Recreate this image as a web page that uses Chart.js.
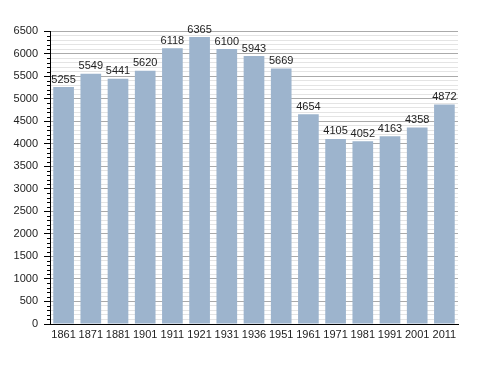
<!DOCTYPE html>
<html>
<head>
<meta charset="utf-8">
<script src="https://cdn.jsdelivr.net/npm/chart.js@4/dist/chart.umd.min.js"></script>
<style>
  html, body { margin: 0; padding: 0; background: #fff; }
  #wrap { width: 488px; height: 373px; }
</style>
</head>
<body>
<div id="wrap"><canvas id="popChart" width="488" height="373"></canvas></div>
<script>
const YEARS = ["1861", "1871", "1881", "1901", "1911", "1921", "1931", "1936", "1951", "1961", "1971", "1981", "1991", "2001", "2011"];
const POPULATION = [5255, 5549, 5441, 5620, 6118, 6365, 6100, 5943, 5669, 4654, 4105, 4052, 4163, 4358, 4872];
const Y_MAX = 6500;
const BAR_COLOR = "#9db4cd";
const FONT = "'Liberation Sans', Arial, sans-serif";

// labels on top of each bar + short minor ticks on the y axis
const valueLabels = {
  id: "valueLabels",
  afterDatasetsDraw(chart) {
    const ctx = chart.ctx;
    const meta = chart.getDatasetMeta(0);
    ctx.save();
    ctx.font = "11px " + FONT;
    ctx.fillStyle = "#222";
    ctx.textAlign = "center";
    ctx.textBaseline = "bottom";
    meta.data.forEach((bar, i) => {
      ctx.fillText(String(POPULATION[i]), bar.x, bar.y - 2);
    });

    const y = chart.scales.y;
    ctx.strokeStyle = "#000";
    ctx.lineWidth = 1;
    y.ticks.forEach((t) => {
      if (t.value % 500 === 0) return;
      const py = Math.round(y.getPixelForValue(t.value)) + 0.5;
      ctx.beginPath();
      ctx.moveTo(y.right - 3, py);
      ctx.lineTo(y.right, py);
      ctx.stroke();
    });
    ctx.restore();
  }
};

new Chart(document.getElementById("popChart"), {
  type: "bar",
  data: {
    labels: YEARS,
    datasets: [{
      data: POPULATION,
      backgroundColor: BAR_COLOR,
      borderWidth: 0,
      categoryPercentage: 1,
      barPercentage: 0.76
    }]
  },
  options: {
    responsive: false,
    animation: false,
    layout: { padding: { top: 31, right: 30, bottom: 29, left: 0 } },
    plugins: { legend: { display: false }, tooltip: { enabled: false } },
    scales: {
      x: {
        afterFit(scale) { scale.height = 20; },
        grid: { display: false, drawTicks: false },
        border: { display: true, color: "#000", width: 1 },
        ticks: { color: "#222", font: { size: 11, family: FONT }, padding: 4, maxRotation: 0, autoSkip: false }
      },
      y: {
        min: 0,
        max: Y_MAX,
        afterFit(scale) { scale.width = 50; },
        border: { display: true, color: "#000", width: 1 },
        grid: {
          color: (c) => (c.tick && c.tick.value % 500 === 0) ? "#aaaaaa" : "#e4e4e4",
          tickColor: (c) => (c.tick && c.tick.value % 500 === 0) ? "#000" : "rgba(0,0,0,0)",
          tickLength: 6,
          lineWidth: 1
        },
        ticks: {
          stepSize: 100,
          autoSkip: false,
          color: "#222",
          font: { size: 11, family: FONT },
          padding: 6,
          callback: (v) => v % 500 === 0 ? String(v) : ""
        }
      }
    }
  },
  plugins: [valueLabels]
});
</script>
</body>
</html>
